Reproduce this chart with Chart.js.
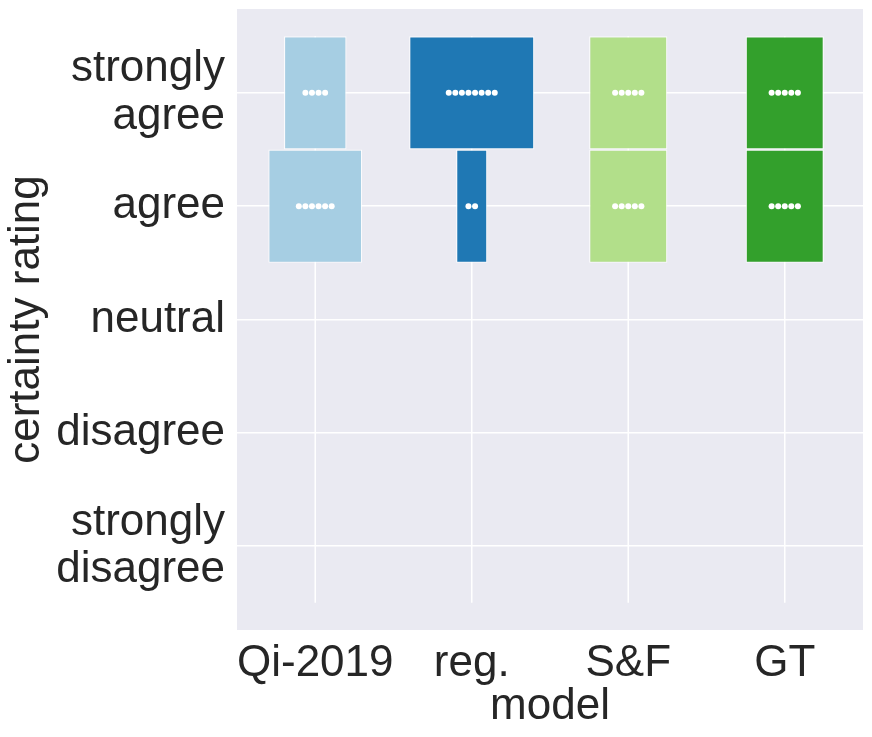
<!DOCTYPE html>
<html>
<head>
<meta charset="utf-8">
<script src="https://cdn.jsdelivr.net/npm/chart.js@4.4.1/dist/chart.umd.min.js"></script>
<style>
  html, body { margin: 0; padding: 0; background: #ffffff; }
  #wrap { width: 872px; height: 737px; }
</style>
</head>
<body>
<div id="wrap"><canvas id="c" width="872" height="737"></canvas></div>
<script>
// ---- data ----
const models = ['Qi-2019', 'reg.', 'S&F', 'GT'];
const ratings = ['strongly disagree', 'disagree', 'neutral', 'agree', 'strongly agree']; // index 0..4 bottom->top
const ratingLabels = [['strongly', 'disagree'], 'disagree', 'neutral', 'agree', ['strongly', 'agree']];
// counts per model for each rating (strongly disagree .. strongly agree)
const countsQi  = [0, 0, 0, 6, 4];
const countsReg = [0, 0, 0, 2, 8];
const countsSF  = [0, 0, 0, 5, 5];
const countsGT  = [0, 0, 0, 5, 5];
const totalPerModel = 10;
const modelColors = ['#a6cee3', '#1f78b4', '#b2df8a', '#33a02c'];

const allCounts = [countsQi, countsReg, countsSF, countsGT];
const dotStep = 0.042; // swarm spacing in category units

const datasets = [];

// vertical guide lines per model (behind boxes)
models.forEach((m, i) => {
  datasets.push({
    type: 'line',
    data: [{x: i, y: -0.5}, {x: i, y: ratings.length - 0.5}],
    borderColor: '#ffffff',
    borderWidth: 1.5,
    pointRadius: 0,
    fill: false,
    order: 5
  });
});

// boxes: one floating bar per (model, rating) with width proportional to count
allCounts.forEach((counts, i) => {
  counts.forEach((n, r) => {
    if (!n) return;
    datasets.push({
      type: 'bar',
      data: [{x: i, y: [r - 0.5, r + 0.5]}],
      backgroundColor: modelColors[i],
      borderColor: 'rgba(255,255,255,0.8)',
      borderWidth: 1.2,
      borderSkipped: false,
      grouped: false,
      categoryPercentage: 1,
      barPercentage: n / totalPerModel,
      order: 3
    });
  });
});

// swarm dots
allCounts.forEach((counts, i) => {
  const pts = [];
  counts.forEach((n, r) => {
    for (let k = 0; k < n; k++) {
      pts.push({x: i + (k - (n - 1) / 2) * dotStep, y: r});
    }
  });
  datasets.push({
    type: 'scatter',
    data: pts,
    backgroundColor: '#ffffff',
    borderColor: '#ffffff',
    borderWidth: 0,
    pointRadius: 3,
    order: 1
  });
});

const bgPlugin = {
  id: 'bg',
  beforeDraw(chart) {
    const {ctx, chartArea: a} = chart;
    ctx.save();
    ctx.fillStyle = '#eaeaf2';
    ctx.fillRect(a.left, a.top, a.right - a.left, a.bottom - a.top);
    ctx.restore();
  }
};

const txt = '#262626';
new Chart(document.getElementById('c'), {
  type: 'bar',
  data: { datasets },
  options: {
    responsive: false,
    animation: false,
    devicePixelRatio: 1,
    layout: { padding: { left: 0, right: 9, top: 9, bottom: 0 } },
    plugins: { legend: { display: false }, tooltip: { enabled: false } },
    scales: {
      x: {
        type: 'linear',
        offset: false,
        min: -0.5,
        max: models.length - 0.5,
        afterBuildTicks: s => { s.ticks = models.map((_, i) => ({ value: i })); },
        afterFit: s => { s.height = 107; s.paddingLeft = 0; s.paddingRight = 0; },
        grid: { display: false, offset: false },
        border: { display: false },
        ticks: {
          callback: v => models[v],
          font: { family: 'Liberation Sans', size: 44 },
          color: txt,
          padding: -1,
          maxRotation: 0,
          autoSkip: false
        },
        title: {
          display: true,
          text: 'model',
          font: { family: 'Liberation Sans', size: 44, lineHeight: 1.2 },
          color: txt,
          padding: { top: 0, bottom: 4 }
        }
      },
      y: {
        type: 'linear',
        min: -0.74,
        max: ratings.length - 1 + 0.74,
        afterBuildTicks: s => { s.ticks = ratings.map((_, i) => ({ value: i })); },
        afterFit: s => { s.width = 237; s.paddingTop = 0; s.paddingBottom = 0; },
        grid: { color: '#ffffff', lineWidth: 1.5, drawTicks: false },
        border: { display: false },
        ticks: {
          callback: v => ratingLabels[v],
          font: { family: 'Liberation Sans', size: 44, lineHeight: 1.07 },
          color: txt,
          padding: 12,
          autoSkip: false
        },
        title: {
          display: true,
          text: 'certainty rating',
          font: { family: 'Liberation Sans', size: 44, lineHeight: 1.2 },
          color: txt,
          padding: { top: 0, bottom: 0 }
        }
      }
    }
  },
  plugins: [bgPlugin]
});
</script>
</body>
</html>
